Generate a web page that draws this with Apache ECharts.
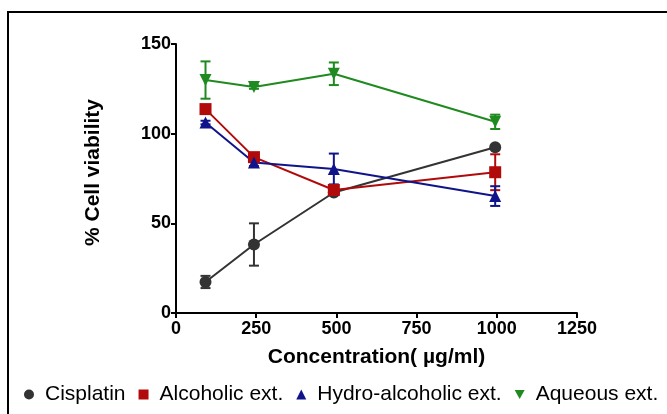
<!DOCTYPE html>
<html><head><meta charset="utf-8">
<script src="https://cdn.jsdelivr.net/npm/echarts@6/dist/echarts.min.js"></script>
<style>html,body{margin:0;padding:0;background:#fff}#c{width:667px;height:414px}</style>
</head><body><div id="c"></div>
<script>
const concentrations = [92, 243, 492, 995];
const cisplatinMean = [17.3, 38.2, 67.2, 92.4];
const cisplatinErr = [3.4, 11.8, 1.0, 1.0];
const alcoholicMean = [113.7, 86.9, 68.6, 78.5];
const alcoholicErr = [1.0, 1.5, 1.5, 10.0];
const hydroMean = [106.2, 83.9, 80.3, 65.2];
const hydroErr = [1.0, 2.0, 8.6, 5.5];
const aqueousMean = [129.9, 126.0, 133.4, 106.6];
const aqueousErr = [10.4, 1.0, 6.3, 4.0];
const xTicks = [0, 250, 500, 750, 1000, 1250];
const yTicks = [0, 50, 100, 150];

const seriesDefs = [
  {name:'Cisplatin', mean:cisplatinMean, err:cisplatinErr, color:'#333333', symbol:'circle', size:12, rotate:0, icon:'circle'},
  {name:'Alcoholic ext.', mean:alcoholicMean, err:alcoholicErr, color:'#b00a0a', symbol:'rect', size:12, rotate:0, icon:'rect'},
  {name:'Hydro-alcoholic ext.', mean:hydroMean, err:hydroErr, color:'#10148a', symbol:'triangle', size:12, rotate:0, icon:'triangle'},
  {name:'Aqueous ext.', mean:aqueousMean, err:aqueousErr, color:'#1f8a1f', symbol:'triangle', size:12, rotate:180, icon:'path://M0,0 L10,0 L5,9 Z'}
];

const series = [];
seriesDefs.forEach(d => {
  series.push({
    name:d.name, type:'line',
    data: concentrations.map((x,i)=>[x,d.mean[i]]),
    symbol:d.symbol, symbolSize:d.size, symbolRotate:d.rotate,
    itemStyle:{color:d.color},
    lineStyle:{color:d.color, width:2},
    z:3
  });
  series.push({
    name:d.name, type:'custom',
    data: concentrations.map((x,i)=>[x, d.mean[i]-d.err[i], d.mean[i]+d.err[i]]),
    renderItem:(params, api)=>{
      const x = api.value(0);
      const lo = api.coord([x, api.value(1)]);
      const hi = api.coord([x, api.value(2)]);
      const w = 5;
      const st = {stroke:d.color, lineWidth:2, fill:null};
      return {type:'group', children:[
        {type:'line', shape:{x1:lo[0],y1:lo[1],x2:hi[0],y2:hi[1]}, style:st},
        {type:'line', shape:{x1:lo[0]-w,y1:lo[1],x2:lo[0]+w,y2:lo[1]}, style:st},
        {type:'line', shape:{x1:hi[0]-w,y1:hi[1],x2:hi[0]+w,y2:hi[1]}, style:st}
      ]};
    },
    z:2
  });
});

const chart = echarts.init(document.getElementById('c'));
chart.setOption({
  animation:false,
  backgroundColor:'#fff',
  grid:{left:176, top:44, width:401, height:269},
  xAxis:{type:'value', min:xTicks[0], max:xTicks[xTicks.length-1], interval:250,
    name:'Concentration( µg/ml)', nameLocation:'middle', nameGap:34,
    nameTextStyle:{fontFamily:'Liberation Sans', fontWeight:'bold', fontSize:21, color:'#000'},
    axisLine:{lineStyle:{color:'#000', width:2}},
    axisTick:{length:5, lineStyle:{color:'#000', width:2}},
    axisLabel:{fontFamily:'Liberation Sans', fontWeight:'bold', fontSize:18, color:'#000', margin:7,
      formatter:v=>String(v)},
    splitLine:{show:false}},
  yAxis:{type:'value', min:yTicks[0], max:yTicks[yTicks.length-1], interval:50,
    name:'% Cell viability', nameLocation:'middle', nameGap:72,
    nameTextStyle:{fontFamily:'Liberation Sans', fontWeight:'bold', fontSize:21, color:'#000', padding:[0,0,0,12]},
    axisLine:{show:true, lineStyle:{color:'#000', width:2}},
    axisTick:{show:true, length:5, lineStyle:{color:'#000', width:2}},
    axisLabel:{fontFamily:'Liberation Sans', fontWeight:'bold', fontSize:18, color:'#000', margin:5,
      formatter:v=>String(v)},
    splitLine:{show:false}},
  legend:{
    left:24, top:384, itemGap:13, itemWidth:10, itemHeight:10, padding:0,
    data: seriesDefs.map(d=>({name:d.name, icon:d.icon, itemStyle:{color:d.color}})),
    textStyle:{fontFamily:'Liberation Sans', fontSize:21, color:'#000', padding:[0,0,0,6]}
  },
  graphic:[{type:'rect', shape:{x:8, y:12, width:680, height:420}, style:{fill:null, stroke:'#000', lineWidth:2}, silent:true}],
  series
});
</script></body></html>
